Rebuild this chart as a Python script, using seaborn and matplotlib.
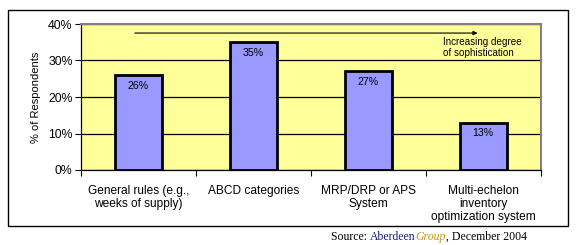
import numpy as np
import matplotlib
matplotlib.use("Agg")
import matplotlib.pyplot as plt
import seaborn as sns
from matplotlib.patches import Rectangle

#--------------------------------Data----------------------------#
categories = ["General rules (e.g.,\nweeks of supply)", "ABCD categories",
              "MRP/DRP or APS\nSystem", "Multi-echelon\ninventory\noptimization system"]
respondents = [26, 35, 27, 13]
y_ticks = [0, 10, 20, 30, 40]

sns.set_theme(style="white", rc={'text.color': 'black', 'axes.labelcolor': 'black',
                                 'xtick.color': 'black', 'ytick.color': 'black'})
plt.rcParams['font.family'] = ['Liberation Sans', 'DejaVu Sans']

fig = plt.figure(figsize=(5.77, 2.45), dpi=100)

# outer frame
fig.patches.append(Rectangle((8/577, 19/245), 560/577, 216/245, transform=fig.transFigure,
                             fill=False, edgecolor='black', linewidth=1.0))

ax = fig.add_axes([81/577, 75/245, 459.5/577, 146/245])
ax.set_facecolor('#FFFF99')

sns.barplot(x=categories, y=respondents, color='#9999FF', edgecolor='black',
            linewidth=2, width=0.41, saturation=1, ax=ax, zorder=3)

ax.set_ylim(0, 40)
ax.set_xlim(-0.5, len(categories) - 0.5)
ax.set_yticks(y_ticks)
ax.set_yticklabels([str(t) + "%" for t in y_ticks], fontsize=8.8)
ax.yaxis.grid(True, color='black', linewidth=0.9, zorder=0)
ax.set_axisbelow(True)

# category labels centered, tick marks at boundaries
ax.set_xticks(range(len(categories)))
ax.set_xticklabels(categories, fontsize=8.6, linespacing=1.1)
ax.tick_params(axis='x', which='major', length=0, pad=11)
ax.set_xticks(np.arange(-0.5, len(categories)), minor=True)
ax.tick_params(axis='x', which='minor', length=4, width=0.8, color='black', direction='out', bottom=True)
ax.tick_params(axis='y', length=4, width=0.8, color='black', direction='out', left=True, pad=2)

ax.set_xlabel("")
ax.set_ylabel("% of Respondents", fontsize=8, labelpad=5)

for side in ['top', 'right']:
    ax.spines[side].set_color('#808080')
    ax.spines[side].set_linewidth(1.5)
for side in ['left', 'bottom']:
    ax.spines[side].set_color('black')
    ax.spines[side].set_linewidth(0.9)

# value labels
for i, v in enumerate(respondents):
    ax.annotate(str(v) + "%", (i, v), xytext=(0, -4), textcoords='offset points',
                ha='center', va='top', fontsize=7.7, zorder=4)

# sophistication arrow
ax.annotate("", xy=(0.869, 0.938), xytext=(0.111, 0.938), xycoords='axes fraction',
            arrowprops=dict(arrowstyle='-|>', color='black', lw=0.8, mutation_scale=6))
ax.text(0.788, 0.84, "Increasing degree\nof sophistication", transform=ax.transAxes,
        fontsize=7.1, ha='left', va='center', linespacing=1.1)

# source line with mixed styling
renderer = fig.canvas.get_renderer()
parts = [("Source: ", 'black', 'normal'), ("Aberdeen", '#1a1a8c', 'normal'),
         ("Group", '#C8960A', 'italic'), (", December 2004", 'black', 'normal')]
x = 331
for txt, col, style in parts:
    t = fig.text(x/577, 1 - 240/245, txt, color=col, style=style, fontsize=8.5,
                 family=['Liberation Serif', 'DejaVu Serif'], ha='left', va='baseline')
    x += t.get_window_extent(renderer).width

fig.savefig("out.png", dpi=100)
